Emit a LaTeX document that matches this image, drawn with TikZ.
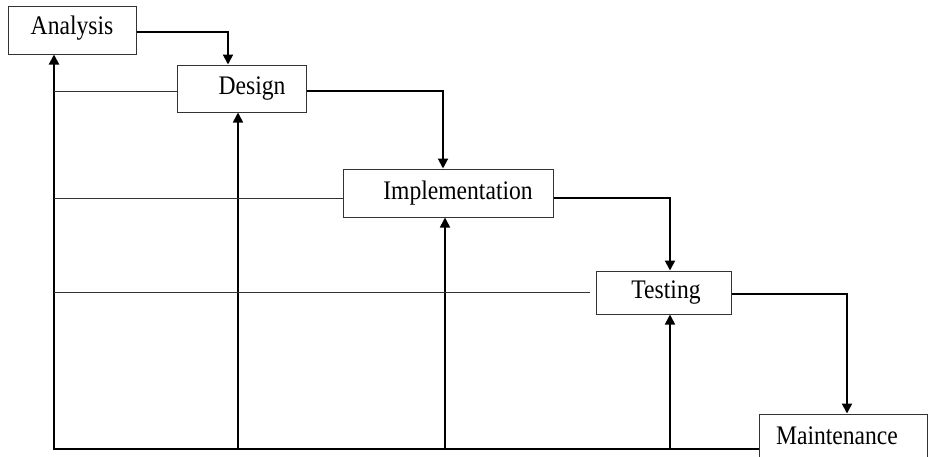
\documentclass[tikz,border=0pt]{standalone}
\usepackage{fontspec}
\setmainfont{Liberation Serif}[FakeStretch=0.88]
\usetikzlibrary{arrows.meta, positioning}
\tikzset{
  phase/.style={draw=black!80, line width=0.5pt, fill=white, inner sep=0pt},
  flow/.style={line width=1pt, -{Triangle[length=5pt,width=5pt]}},
  feedback/.style={line width=0.8pt, -{Triangle[length=5pt,width=5pt]}},
  tie/.style={line width=0.5pt, draw=black!80},
}

\begin{document}
\begin{tikzpicture}[x=0.5pt, y=-0.5pt, font=\fontsize{13.4pt}{15pt}\selectfont]
  \useasboundingbox (0,0) rectangle (932,456);
  % stages
  \node[phase, minimum width=64pt, minimum height=24pt,
        label={[yshift=1pt]center:Analysis}] (analysis) at (72,30) {};
  \node[phase, minimum width=64.5pt, minimum height=23.5pt,
        label={[xshift=5.25pt]center:Design}] (design) at (241.5,88.5) {};
  \node[phase, minimum width=105pt, minimum height=24pt,
        label={[xshift=5pt]center:Implementation}] (impl) at (448,193) {};
  \node[phase, minimum width=67.5pt, minimum height=21.5pt,
        label={[xshift=1.25pt]center:Testing}] (testing) at (663.5,292.5) {};
  \node[phase, minimum width=84pt, minimum height=24pt,
        label={[xshift=-3pt, yshift=1pt]center:Maintenance}] (maint) at (843,438) {};

  % forward flow
  \draw[flow] ([yshift=-1pt]analysis.east) -| ([xshift=-6.75pt]design.north);
  \draw[flow] ([yshift=-1pt]design.east) -| ([xshift=-2.5pt]impl.north);
  \draw[flow] ([yshift=-2.5pt]impl.east) -| ([xshift=3.25pt]testing.north);
  \draw[flow] ([yshift=-0.75pt]testing.east) -| ([xshift=2pt]maint.north);

  % feedback paths
  \coordinate (corner) at (54,449);
  \draw[flow] (corner -| maint.west) -- (corner) -- ([xshift=-9pt]analysis.south);
  \foreach \stage/\dx in {design/-1.75pt, impl/-1.5pt, testing/3.25pt} {
    \path ([xshift=\dx]\stage.south) coordinate (in-\stage);
    \draw[feedback] (in-\stage |- corner) -- (in-\stage);
  }
  \foreach \stage/\gap/\dy in {design/0pt/-1.25pt, impl/0pt/-2.5pt, testing/-3pt/0pt} {
    \path ([xshift=\gap, yshift=\dy]\stage.west) coordinate (out-\stage);
    \draw[tie] (out-\stage) -- (out-\stage -| corner);
  }
\end{tikzpicture}
\end{document}
